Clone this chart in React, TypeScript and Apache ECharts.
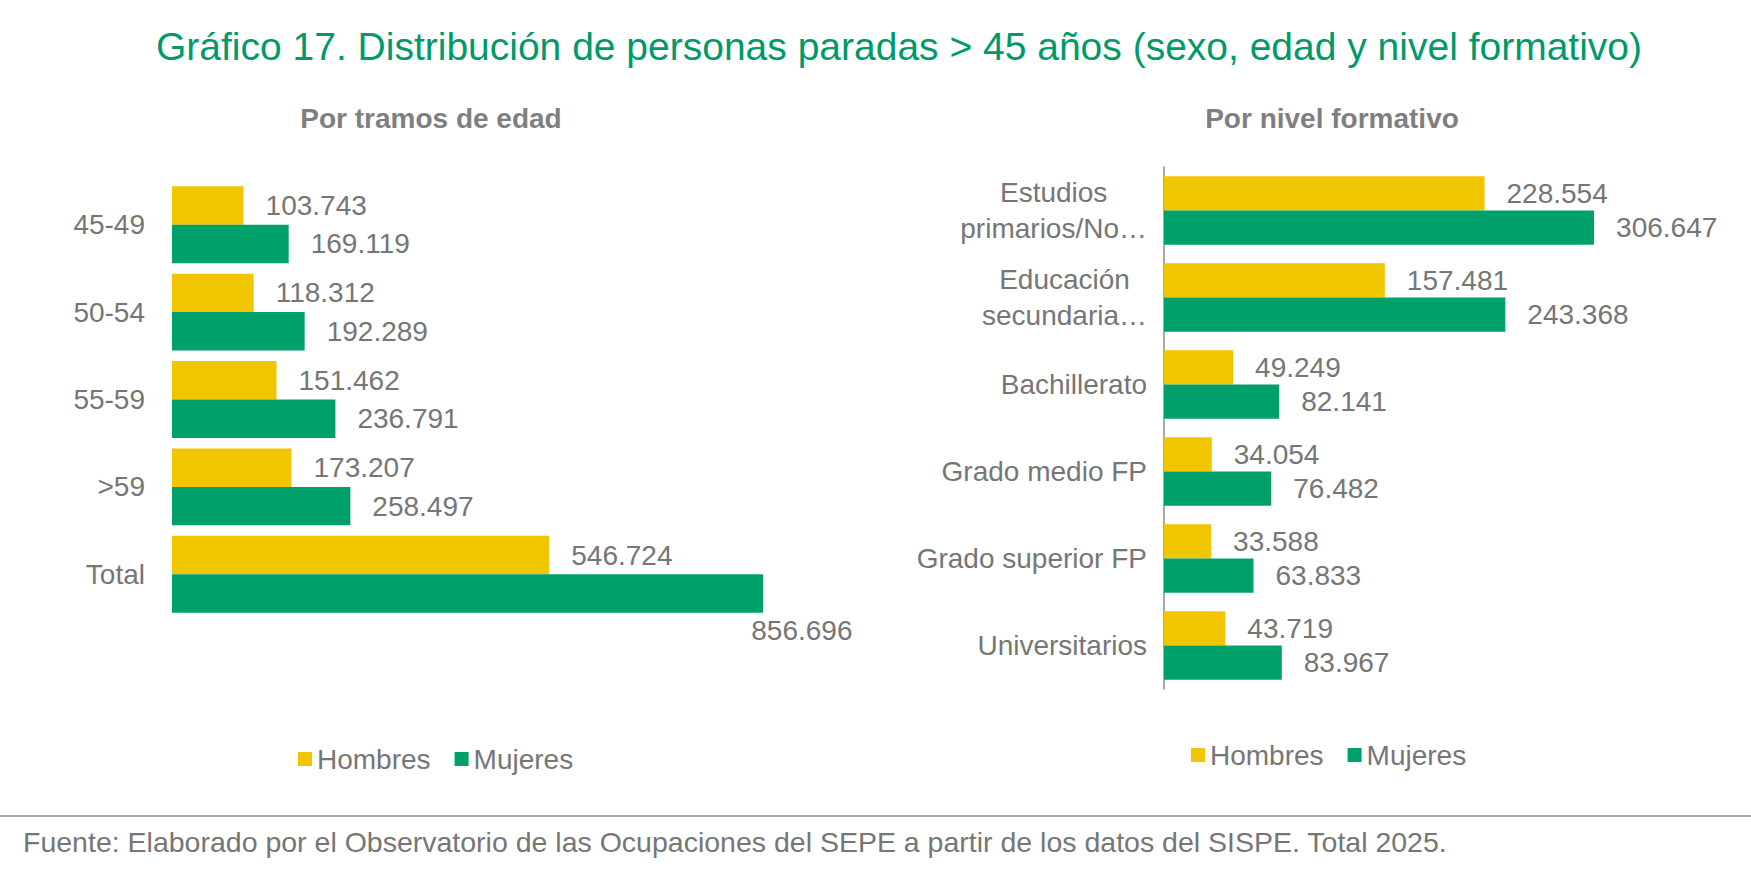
import { useRef, useEffect } from 'react'
import * as echarts from 'echarts'

const ageCategories = ['45-49', '50-54', '55-59', '>59', 'Total']
const ageHombres = [103743, 118312, 151462, 173207, 546724]
const ageMujeres = [169119, 192289, 236791, 258497, 856696]

const eduCategories = [
  'Estudios\nprimarios/No…',
  'Educación\nsecundaria…',
  'Bachillerato',
  'Grado medio FP',
  'Grado superior FP',
  'Universitarios',
]
const eduHombres = [228554, 157481, 49249, 34054, 33588, 43719]
const eduMujeres = [306647, 243368, 82141, 76482, 63833, 83967]

const seriesNames = ['Hombres', 'Mujeres']

const YELLOW = '#F0C600'
const GREEN = '#00A06B'
const GRAY = '#767676'
const FONT = '"Liberation Sans", Arial, sans-serif'

const fmt = (v: number) => String(v).replace(/\B(?=(\d{3})+(?!\d))/g, '.')

export default function App() {
  const chartRef = useRef<HTMLDivElement>(null)

  useEffect(() => {
    document.body.style.margin = '0'
    if (!chartRef.current) return
    const chart = echarts.init(chartRef.current, undefined, { renderer: 'svg' })

    const valueLabel = {
      show: true,
      position: 'right',
      distance: 22,
      fontSize: 28,
      fontFamily: FONT,
      color: GRAY,
      formatter: (p: any) => fmt(p.value),
    }

    const lastIdx = ageMujeres.length - 1

    chart.setOption({
      animation: false,
      textStyle: { fontFamily: FONT },
      graphic: [
        {
          type: 'text',
          x: 899,
          y: 46,
          style: {
            text: 'Gráfico 17. Distribución de personas paradas > 45 años (sexo, edad y nivel formativo)',
            font: `39px ${FONT}`,
            fill: '#009A6A',
            align: 'center',
            verticalAlign: 'middle',
          },
        },
        {
          type: 'text',
          x: 431,
          y: 118,
          style: {
            text: 'Por tramos de edad',
            font: `bold 28px ${FONT}`,
            fill: '#7F7F7F',
            align: 'center',
            verticalAlign: 'middle',
          },
        },
        {
          type: 'text',
          x: 1332,
          y: 118,
          style: {
            text: 'Por nivel formativo',
            font: `bold 28px ${FONT}`,
            fill: '#7F7F7F',
            align: 'center',
            verticalAlign: 'middle',
          },
        },
        {
          type: 'line',
          shape: { x1: 0, y1: 816, x2: 1751, y2: 816 },
          style: { stroke: '#A6A6A6', lineWidth: 2 },
        },
        {
          type: 'text',
          x: 23,
          y: 842,
          style: {
            text: 'Fuente: Elaborado por el Observatorio de las Ocupaciones del SEPE a partir de los datos del SISPE. Total 2025.',
            font: `28.5px ${FONT}`,
            fill: GRAY,
            align: 'left',
            verticalAlign: 'middle',
          },
        },
      ],
      legend: [
        {
          data: seriesNames,
          left: 293,
          top: 740,
          icon: 'rect',
          itemWidth: 14,
          itemHeight: 14,
          itemGap: 24,
          textStyle: { fontSize: 28, color: GRAY, fontFamily: FONT },
        },
        {
          data: seriesNames,
          left: 1186,
          top: 736,
          icon: 'rect',
          itemWidth: 14,
          itemHeight: 14,
          itemGap: 24,
          textStyle: { fontSize: 28, color: GRAY, fontFamily: FONT },
        },
      ],
      grid: [
        { left: 172, top: 181, width: 690, height: 437 },
        { left: 1164, top: 167, width: 561, height: 522 },
      ],
      xAxis: [
        { gridIndex: 0, type: 'value', min: 0, max: 1000000, show: false },
        { gridIndex: 1, type: 'value', min: 0, max: 400000, show: false },
      ],
      yAxis: [
        {
          gridIndex: 0,
          type: 'category',
          inverse: true,
          data: ageCategories,
          axisLine: { show: false },
          axisTick: { show: false },
          axisLabel: { fontSize: 28, color: GRAY, margin: 27, fontFamily: FONT },
        },
        {
          gridIndex: 1,
          type: 'category',
          inverse: true,
          data: eduCategories,
          axisLine: { show: true, lineStyle: { color: '#8C8C8C', width: 1.5 } },
          axisTick: { show: false },
          axisLabel: {
            margin: 17,
            formatter: (v: string) =>
              v
                .split('\n')
                .map(l => `{c|${l}}`)
                .join('\n'),
            rich: {
              c: { align: 'center', fontSize: 28, lineHeight: 36, color: GRAY, fontFamily: FONT },
            },
          },
        },
      ],
      series: [
        {
          name: 'Hombres',
          type: 'bar',
          xAxisIndex: 0,
          yAxisIndex: 0,
          data: ageHombres,
          itemStyle: { color: YELLOW },
          barGap: '0%',
          barCategoryGap: '12%',
          label: valueLabel,
        },
        {
          name: 'Mujeres',
          type: 'bar',
          xAxisIndex: 0,
          yAxisIndex: 0,
          data: ageMujeres.map((v, i) =>
            i === lastIdx
              ? {
                  value: v,
                  label: { position: ['98%', '146%'], align: 'left', verticalAlign: 'middle' },
                }
              : v
          ),
          itemStyle: { color: GREEN },
          barGap: '0%',
          barCategoryGap: '12%',
          label: valueLabel,
        },
        {
          name: 'Hombres',
          type: 'bar',
          xAxisIndex: 1,
          yAxisIndex: 1,
          data: eduHombres,
          itemStyle: { color: YELLOW },
          barGap: '0%',
          barCategoryGap: '21%',
          label: valueLabel,
        },
        {
          name: 'Mujeres',
          type: 'bar',
          xAxisIndex: 1,
          yAxisIndex: 1,
          data: eduMujeres,
          itemStyle: { color: GREEN },
          barGap: '0%',
          barCategoryGap: '21%',
          label: valueLabel,
        },
      ],
    })

    return () => {
      chart.dispose()
    }
  }, [])

  return <div ref={chartRef} style={{ width: 1751, height: 875 }} />
}
